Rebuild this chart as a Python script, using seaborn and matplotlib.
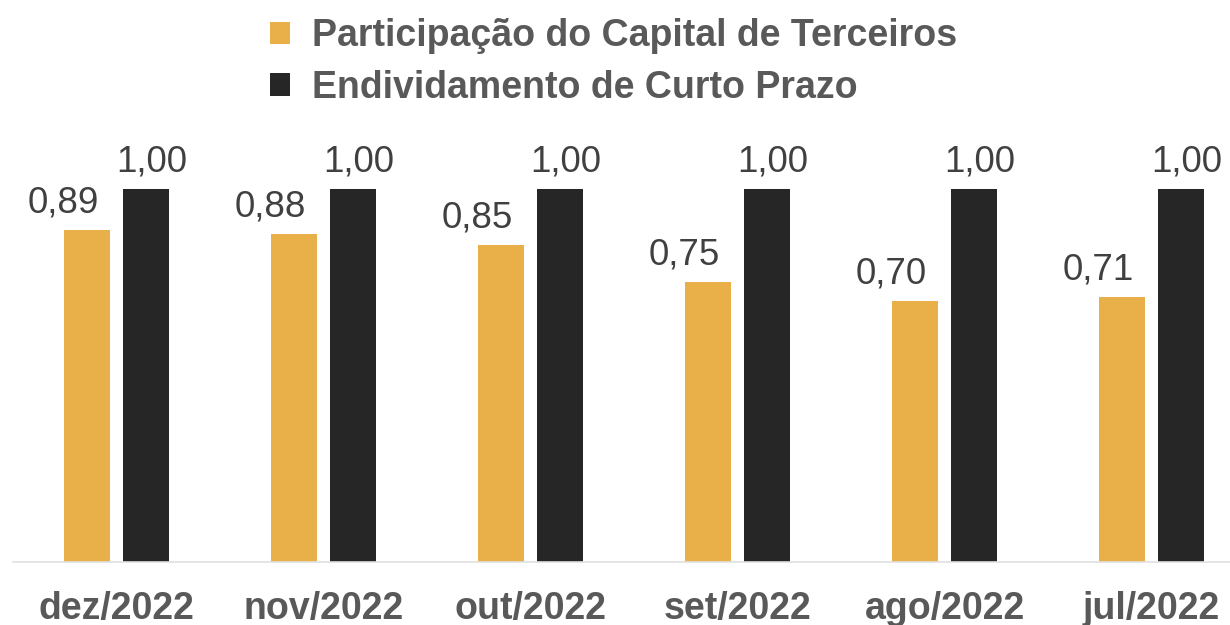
import pandas as pd
import seaborn as sns
import matplotlib.pyplot as plt
from matplotlib.patches import Patch

months = ['dez/2022', 'nov/2022', 'out/2022', 'set/2022', 'ago/2022', 'jul/2022']
capital_terceiros = [0.89, 0.88, 0.85, 0.75, 0.70, 0.71]
curto_prazo = [1.00, 1.00, 1.00, 1.00, 1.00, 1.00]
series = ['Participação do Capital de Terceiros', 'Endividamento de Curto Prazo']

df = pd.DataFrame({
    'mes': months * 2,
    'valor': capital_terceiros + curto_prazo,
    'serie': [series[0]] * len(months) + [series[1]] * len(months),
})

colors = ['#E9AF48', '#262626']
gray = '#595959'

sns.set_style('white')
plt.rcParams['font.family'] = ['Liberation Sans', 'DejaVu Sans']

fig = plt.figure(figsize=(12.3, 6.25), dpi=100)
# plot area extends past the right edge, like the cropped original
ax = fig.add_axes([13 / 1230, 63 / 625, 1242 / 1230, 447.6 / 625])

sns.barplot(data=df, x='mes', y='valor', hue='serie', palette=colors,
            saturation=1, width=0.575, gap=0.227, linewidth=0,
            legend=False, ax=ax)

ax.set_ylim(0, 1.2)
ax.set_xlim(-0.5, len(months) - 0.5)
ax.set_xlabel('')
ax.set_ylabel('')
ax.set_yticks([])
for s in ['top', 'left', 'right']:
    ax.spines[s].set_visible(False)
ax.spines['bottom'].set_color('#E0E0E0')
ax.spines['bottom'].set_linewidth(1.2)
ax.tick_params(axis='x', length=0, pad=21, labelsize=27, labelcolor=gray)
for t in ax.get_xticklabels():
    t.set_fontweight('bold')

# data labels (comma decimal)
for i, cont in enumerate(ax.containers):
    dx = -17 if i == 0 else 4
    for bar in cont:
        h = bar.get_height()
        ax.annotate(f'{h:.2f}'.replace('.', ','),
                    (bar.get_x() + bar.get_width() / 2, h),
                    xytext=(dx, 7), textcoords='offset points',
                    ha='center', va='bottom', fontsize=26.5, color='#404040')

handles = [Patch(facecolor=c, edgecolor='none') for c in colors]
fig.legend(handles, series, loc='upper left', bbox_to_anchor=(270 / 1230, 1 - 18 / 625),
           frameon=False, borderpad=0, borderaxespad=0, handlelength=0.53,
           handleheight=0.53, handletextpad=0.58, labelspacing=0.42,
           prop={'size': 27, 'weight': 'bold'}, labelcolor=gray)

plt.savefig('out.png', dpi=100)
